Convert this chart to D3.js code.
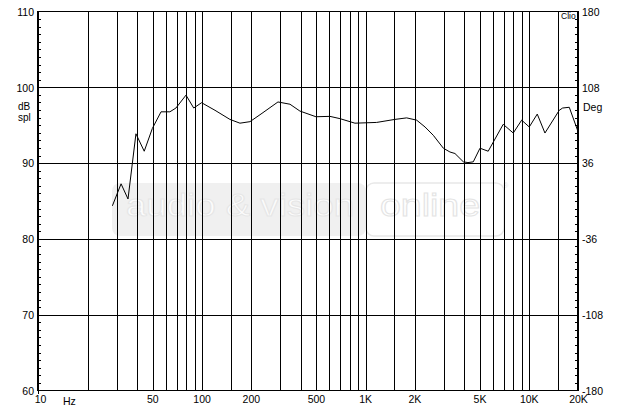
<!DOCTYPE html>
<html>
<head>
<meta charset="utf-8">
<script src="https://cdn.jsdelivr.net/npm/d3@7"></script>
<style>
  html, body { margin: 0; padding: 0; background: #fff; }
  svg { display: block; }
  text { font-family: "Liberation Sans", Arial, sans-serif; font-size: 10.5px; fill: #000; }
</style>
</head>
<body>
<svg id="chart" width="620" height="410"></svg>
<script>
// ---- data ----
const freqs = [28.5, 32.2, 35.5, 39.7, 44.6, 50, 56.5, 64, 69.7, 80.3, 89.5, 100, 120.8, 149, 171.6, 197.6, 234, 293, 347, 399, 500, 609, 701, 866, 1175, 1521, 1793, 2064, 2322, 2609, 3005, 3298, 3539, 3983, 4250, 4580, 5034, 5650, 6980, 8040, 9050, 10070, 11270, 12560, 15360, 16110, 17690, 20000];
const splValues = [84.3, 87.2, 85.2, 93.8, 91.5, 94.5, 96.7, 96.7, 97.2, 98.9, 97.2, 97.9, 96.9, 95.7, 95.2, 95.4, 96.5, 98.0, 97.7, 96.8, 96.05, 96.1, 95.8, 95.2, 95.3, 95.7, 95.9, 95.6, 94.7, 93.6, 91.9, 91.4, 91.2, 90.1, 90.0, 90.1, 91.9, 91.5, 95.05, 93.9, 95.6, 94.7, 96.4, 93.9, 96.9, 97.2, 97.3, 94.1];
const xLabelValues = [10, 50, 100, 200, 500, 1000, 2000, 5000, 10000, 20000];
const xLabelTexts = ["10", "50", "100", "200", "500", "1K", "2K", "5K", "10K", "20K"];
const xGridValues = [20, 30, 40, 50, 60, 70, 80, 90, 100, 150, 200, 300, 400, 500, 600, 700, 800, 900, 1000, 1500, 2000, 3000, 4000, 5000, 6000, 7000, 8000, 9000, 10000, 15000];
const yLeftValues = [60, 70, 80, 90, 100, 110];
const yRightTexts = ["-180", "-108", "-36", "36", "108", "180"];
const yGridValues = [70, 80, 90, 100];
const yMinorValues = d3.range(61, 110, 1);

// ---- layout ----
const L = 38, R = 578, T = 11, B = 390;
const svg = d3.select("#chart");
svg.append("rect").attr("width", 620).attr("height", 410).attr("fill", "#fff");

const x = d3.scaleLog().domain([10, 20000]).range([L, R]);
const y = d3.scaleLinear().domain([60, 110]).range([B, T]);

// ---- watermark ----
const wm = svg.append("g");
wm.append("rect").attr("x", 112).attr("y", 183).attr("width", 254).attr("height", 53)
  .attr("rx", 8).attr("fill", "#f0f0f0");
wm.append("text").attr("x", 126).attr("y", 216).attr("textLength", 228).attr("lengthAdjust", "spacingAndGlyphs")
  .style("font-size", "31px").style("fill", "#fcfcfc").style("stroke", "#e6e6e6").style("stroke-width", 1)
  .text("audio & vision");
wm.append("rect").attr("x", 366).attr("y", 183).attr("width", 138).attr("height", 53)
  .attr("rx", 8).attr("fill", "none").attr("stroke", "#e8e8e8").attr("stroke-width", 1.5);
wm.append("text").attr("x", 380).attr("y", 216).attr("textLength", 100).attr("lengthAdjust", "spacingAndGlyphs")
  .style("font-size", "31px").style("fill", "#fff").style("stroke", "#e4e4e4").style("stroke-width", 1)
  .text("online");
wm.append("text").attr("x", 503).attr("y", 188).style("font-size", "7px").style("fill", "#e4e4e4").text("®");

// ---- grid ----
const gx = svg.append("g").attr("transform", `translate(0.5,${B})`)
  .call(d3.axisBottom(x).tickValues(xGridValues).tickSize(-(B - T)).tickFormat(""));
gx.select(".domain").remove();
gx.selectAll("line").attr("stroke", "#000").attr("shape-rendering", "crispEdges");

const gy = svg.append("g").attr("transform", `translate(${L},0.5)`)
  .call(d3.axisRight(y).tickValues(yGridValues).tickSize(R - L).tickFormat(""));
gy.select(".domain").remove();
gy.selectAll("line").attr("stroke", "#000").attr("shape-rendering", "crispEdges");

// frame top/bottom
svg.append("line").attr("x1", L).attr("x2", R).attr("y1", T + 0.5).attr("y2", T + 0.5).attr("stroke", "#000").attr("shape-rendering", "crispEdges");
svg.append("line").attr("x1", L).attr("x2", R).attr("y1", B + 0.5).attr("y2", B + 0.5).attr("stroke", "#000").attr("shape-rendering", "crispEdges");

// minor ticks on both vertical axes
const ml = svg.append("g").attr("transform", `translate(${L},0.5)`)
  .call(d3.axisRight(y).tickValues(yMinorValues).tickSize(3).tickFormat(""));
ml.select(".domain").remove();
ml.selectAll("line").attr("stroke", "#000").attr("shape-rendering", "crispEdges");
const mr = svg.append("g").attr("transform", `translate(${R},0.5)`)
  .call(d3.axisLeft(y).tickValues(yMinorValues).tickSize(3).tickFormat(""));
mr.select(".domain").remove();
mr.selectAll("line").attr("stroke", "#000").attr("shape-rendering", "crispEdges");

// thick side axes
svg.append("rect").attr("x", L - 1).attr("y", T).attr("width", 2).attr("height", B - T + 1).attr("fill", "#000");
svg.append("rect").attr("x", R - 1).attr("y", T).attr("width", 2).attr("height", B - T + 1).attr("fill", "#000");
svg.append("line").attr("x1", L + 0.5).attr("x2", L + 0.5).attr("y1", B).attr("y2", B + 4).attr("stroke", "#000");

// ---- curve ----
const pts = freqs.map((f, i) => [f, splValues[i]]);
svg.append("path").datum(pts)
  .attr("fill", "none").attr("stroke", "#000").attr("stroke-width", 1)
  .attr("d", d3.line().x(d => x(d[0])).y(d => y(d[1])));

// ---- labels ----
const ax = svg.append("g").attr("transform", `translate(0,${B + 4})`)
  .call(d3.axisBottom(x).tickValues(xLabelValues).tickSize(0).tickPadding(0)
    .tickFormat((d, i) => xLabelTexts[i]));
ax.select(".domain").remove();
ax.selectAll("text").attr("dy", "0.71em").attr("y", 2);
ax.selectAll("text").filter((d, i) => i === 0).attr("dx", 2);

const al = svg.append("g").attr("transform", `translate(${L - 4},1)`)
  .call(d3.axisLeft(y).tickValues(yLeftValues).tickSize(0).tickPadding(0).tickFormat(d3.format("d")));
al.select(".domain").remove();

const ar = svg.append("g").attr("transform", `translate(${R + 4},1)`)
  .call(d3.axisRight(y).tickValues(yLeftValues).tickSize(0).tickPadding(0)
    .tickFormat((d, i) => yRightTexts[i]));
ar.select(".domain").remove();

svg.append("text").attr("x", 63).attr("y", 405).text("Hz");
svg.append("text").attr("x", 18).attr("y", 110).style("font-size", "10px").text("dB");
svg.append("text").attr("x", 18).attr("y", 121).style("font-size", "10px").text("spl");
svg.append("text").attr("x", 583).attr("y", 111).text("Deg");
svg.append("text").attr("x", 561).attr("y", 19).style("font-size", "8.5px").text("Clio");
</script>
</body>
</html>
